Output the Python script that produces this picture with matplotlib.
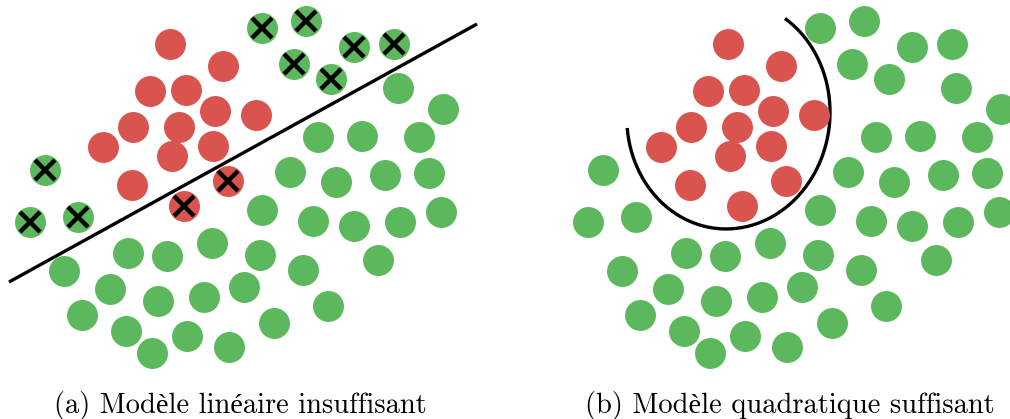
import numpy as np
import matplotlib
matplotlib.use("Agg")
import matplotlib.pyplot as plt

# ================= data (pixel-like coordinates of one panel) =================
# classe rouge
red_x = [170, 223, 150, 186, 215, 256, 133, 179, 103, 172, 213, 132, 228, 184]
red_y = [44, 66, 91, 90, 111, 115, 127, 127, 147, 156, 146, 185, 181, 206]
red_err_lin = [0, 0, 0, 0, 0, 0, 0, 0, 0, 0, 0, 0, 1, 1]  # mal classes par le modele lineaire

# classe verte
green_x = [262, 306, 294, 331, 354, 394, 45, 30, 78,
           398, 443, 318, 362, 419, 290, 336, 385, 429, 262, 313, 354, 400, 441,
           260, 303, 378, 64, 128, 167, 212, 110, 158, 204, 244, 82, 126, 187,
           152, 229, 274, 328]
green_y = [28, 21, 64, 79, 47, 44, 170, 222, 217,
           88, 109, 137, 136, 137, 172, 182, 175, 173, 210, 221, 226, 222, 212,
           255, 270, 260, 271, 253, 256, 243, 289, 301, 297, 287, 315, 331, 336,
           353, 347, 323, 306]
green_err_lin = [1] * 9 + [0] * 32

# frontiere lineaire (a)
line_x = [9, 477]
line_y = [282, 24]

# frontiere quadratique (b)
arc_x = [69, 82, 109, 142, 172, 202, 229, 255, 272, 272, 264, 245, 227]
arc_y = [128, 173, 207, 225, 229, 223, 207, 173, 123, 100, 67, 37, 18]

captions = ["(a) Modèle linéaire insuffisant", "(b) Modèle quadratique suffisant"]
# ===============================================================================

RED = "#D9534F"
GREEN = "#5CB85C"
W, H = 1010, 419
DOT = 497
PANEL_B = 558


def draw_points(ax, show_errors):
    ax.scatter(red_x, red_y, s=DOT, color=RED, linewidths=0, zorder=2)
    ax.scatter(green_x, green_y, s=DOT, color=GREEN, linewidths=0, zorder=2)
    if show_errors:
        ex = [x for x, e in zip(red_x, red_err_lin) if e] + [x for x, e in zip(green_x, green_err_lin) if e]
        ey = [y for y, e in zip(red_y, red_err_lin) if e] + [y for y, e in zip(green_y, green_err_lin) if e]
        ax.plot(ex, ey, linestyle="none", marker="x", ms=15, mew=3.2, color="black", zorder=3)


def quad_boundary():
    # ajustement d'une conique sur les points lus, puis trace en polaire
    x = np.array(arc_x, float)
    y = np.array(arc_y, float)
    cx, cy = x.mean(), y.mean()
    u, v = x - cx, y - cy
    M = np.column_stack([u * u, u * v, v * v, u, v])
    A, B, C, D, E = np.linalg.lstsq(M, np.ones_like(u), rcond=None)[0]
    t0 = np.arctan2(v[0], u[0])
    t1 = np.arctan2(v[-1], u[-1])
    if t0 < t1:
        t0 += 2 * np.pi
    t = np.linspace(t0, t1, 400)
    c, s = np.cos(t), np.sin(t)
    q2 = A * c * c + B * c * s + C * s * s
    q1 = D * c + E * s
    r = (-q1 + np.sqrt(q1 * q1 + 4 * q2)) / (2 * q2)
    return cx + r * c, cy + r * s


fig = plt.figure(figsize=(W / 100, H / 100), dpi=100)
ax_a = fig.add_axes([0, 0, 1, 1])
ax_b = fig.add_axes([PANEL_B / W, 0, 1, 1])

for ax in (ax_a, ax_b):
    ax.set_xlim(0, W)
    ax.set_ylim(H, 0)
    ax.axis("off")

draw_points(ax_a, True)
ax_a.plot(line_x, line_y, color="black", lw=2.4, solid_capstyle="butt", zorder=1)

draw_points(ax_b, False)
bx, by = quad_boundary()
ax_b.plot(bx, by, color="black", lw=2.4, solid_capstyle="butt", zorder=1)

cap_font = dict(family=["cmr10", "Liberation Serif"], fontsize=20.5, ha="center", va="baseline")
ax_a.text(240, 413, captions[0], **cap_font)
ax_b.text(790 - PANEL_B, 413, captions[1], **cap_font)

fig.savefig("out.png", dpi=100)
